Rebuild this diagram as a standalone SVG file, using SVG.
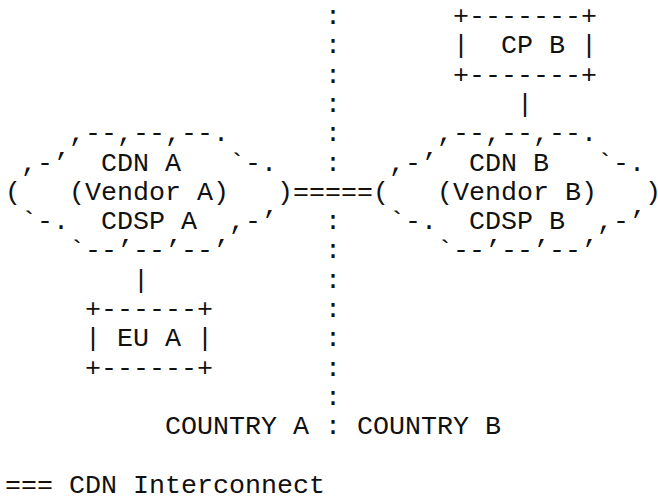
<svg xmlns="http://www.w3.org/2000/svg" width="658" height="498" viewBox="0 0 658 498">
  <style>
    /* Monospace grid: 16px per column (x = 5 + 16*col), 29.3px per row */
    text { font-family: "Liberation Mono", "Courier New", "DejaVu Sans Mono", monospace; font-size: 26.667px; fill: #111; white-space: pre; }
  </style>
  <rect width="658" height="498" fill="#fff"/>

  <!-- Content provider B -->
  <g id="cp-b">
    <text x="453" y="24" xml:space="preserve">+-------+</text>
    <text x="453" y="53.3" xml:space="preserve">|  CP B |</text>
    <text x="453" y="82.6" xml:space="preserve">+-------+</text>
  </g>

  <!-- CDN A cloud -->
  <g id="cdn-a">
    <text x="69" y="141.2" xml:space="preserve">,--,--,--.</text>
    <text x="21" y="170.5" xml:space="preserve">,-’  CDN A   `-.</text>
    <text x="5" y="199.8" xml:space="preserve">(   (Vendor A)   )</text>
    <text x="21" y="229.1" xml:space="preserve">`-.  CDSP A  ,-’</text>
    <text x="69" y="258.4" xml:space="preserve">`--’--’--’</text>
  </g>

  <!-- CDN B cloud -->
  <g id="cdn-b">
    <text x="437" y="141.2" xml:space="preserve">,--,--,--.</text>
    <text x="389" y="170.5" xml:space="preserve">,-’  CDN B   `-.</text>
    <text x="373" y="199.8" xml:space="preserve">(   (Vendor B)   )</text>
    <text x="389" y="229.1" xml:space="preserve">`-.  CDSP B  ,-’</text>
    <text x="437" y="258.4" xml:space="preserve">`--’--’--’</text>
  </g>

  <!-- End user A -->
  <g id="eu-a">
    <text x="85" y="317" xml:space="preserve">+------+</text>
    <text x="85" y="346.3" xml:space="preserve">| EU A |</text>
    <text x="85" y="375.6" xml:space="preserve">+------+</text>
  </g>

  <!-- Links -->
  <g id="connectors">
    <text x="517" y="111.9">|</text>
    <text x="293" y="199.8">=====</text>
    <text x="133" y="287.7">|</text>
  </g>

  <!-- Country border -->
  <g id="border">
    <text x="325" y="24">:</text>
    <text x="325" y="53.3">:</text>
    <text x="325" y="82.6">:</text>
    <text x="325" y="111.9">:</text>
    <text x="325" y="141.2">:</text>
    <text x="325" y="170.5">:</text>
    <text x="325" y="229.1">:</text>
    <text x="325" y="258.4">:</text>
    <text x="325" y="287.7">:</text>
    <text x="325" y="317">:</text>
    <text x="325" y="346.3">:</text>
    <text x="325" y="375.6">:</text>
    <text x="325" y="404.9">:</text>
    <text x="165" y="434.2" xml:space="preserve">COUNTRY A : COUNTRY B</text>
  </g>

  <!-- Legend -->
  <g id="legend">
    <text x="5" y="492.8" xml:space="preserve">=== CDN Interconnect</text>
  </g>
</svg>
